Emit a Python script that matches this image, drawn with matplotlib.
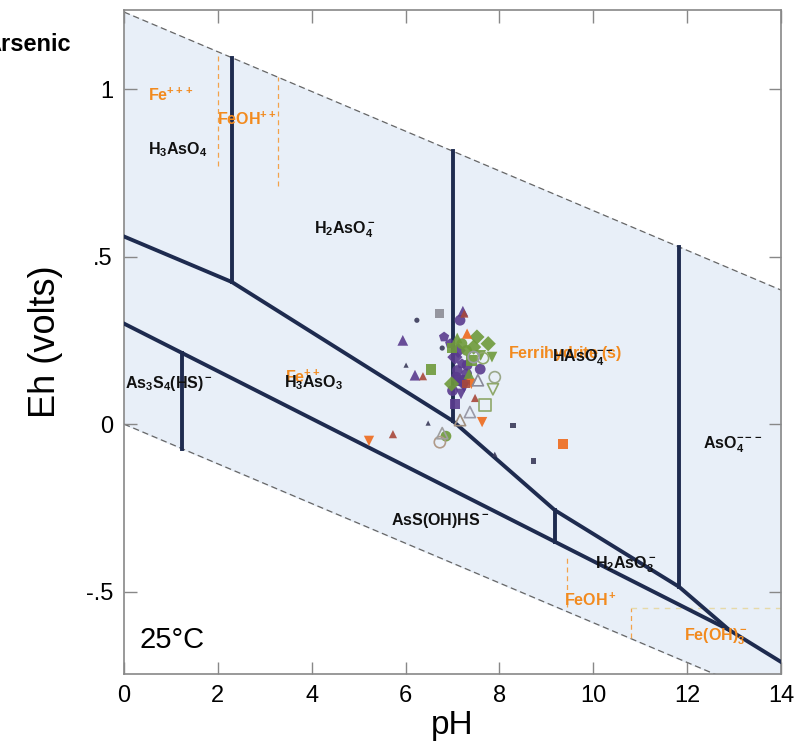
import matplotlib
matplotlib.use("Agg")
import matplotlib.pyplot as plt
import numpy as np

plt.rcParams['font.family'] = ['Liberation Sans', 'DejaVu Sans']
plt.rcParams['mathtext.fontset'] = 'custom'
plt.rcParams['mathtext.rm'] = 'Liberation Sans'
plt.rcParams['mathtext.bf'] = 'Liberation Sans:bold'
plt.rcParams['mathtext.it'] = 'Liberation Sans:italic'

# water stability limits (pH, Eh)
water_ph = [0, 14]
water_top = [1.23, 0.40]
water_bot = [0.0, -0.83]

# As(V) / As(III) boundary
redox_ph = [0, 2.3, 7.0, 9.18, 11.83, 12.9, 14]
redox_eh = [0.56, 0.424, 0.01, -0.257, -0.486, -0.615, -0.71]

# As(III) / sulfide boundary
sulf_ph = [0, 12.9]
sulf_eh = [0.30, -0.615]

# vertical acid/base boundaries: pH, Eh bottom, Eh top
vert_ph = [1.24, 2.3, 7.0, 9.18, 11.83]
vert_lo = [-0.073, 0.424, 0.01, -0.351, -0.486]
vert_hi = [0.212, 1.094, 0.816, -0.257, 0.530]

# iron boundaries (dashed orange)
fe_vert_ph = [2.0, 3.28, 9.44, 10.8]
fe_vert_lo = [0.77, 0.71, -0.546, -0.639]
fe_vert_hi = [1.11, 1.036, -0.397, -0.55]
fe_horiz_ph = [10.8, 14]
fe_horiz_eh = [-0.55, -0.55]

# sample points
purple_ph = [5.94, 6.20, 7.22, 6.82, 7.59, 7.31, 7.16, 7.05, 7.10, 7.15, 7.25, 7.20, 7.00, 7.12, 7.30, 7.05, 6.95, 7.18, 7.08, 7.22]
purple_eh = [0.250, 0.146, 0.337, 0.260, 0.164, 0.176, 0.310, 0.200, 0.160, 0.130, 0.110, 0.180, 0.100, 0.220, 0.150, 0.060, 0.240, 0.090, 0.140, 0.125]
purple_mk = ['^', '^', '^', 'p', 'o', 'o', 'o', 'D', 'o', 's', 'v', 'p', 'o', 'D', 'o', 's', 'p', 'v', 'o', 'D']

green_ph = [7.52, 7.76, 7.10, 6.99, 7.30, 7.40, 6.54, 6.86, 7.20, 7.45, 7.84, 7.60, 7.35, 6.98]
green_eh = [0.260, 0.240, 0.257, 0.227, 0.220, 0.190, 0.164, -0.036, 0.240, 0.230, 0.200, 0.205, 0.150, 0.120]
green_mk = ['D', 'D', '^', 's', 'o', 's', 's', 'o', 'o', 'D', 'v', 'v', '^', 'D']

orange_ph = [7.31, 7.63, 9.35, 5.22, 7.40]
orange_eh = [0.270, 0.006, -0.060, -0.050, 0.120]
orange_mk = ['^', 'v', 's', 'v', 'v']

brown_ph = [7.48, 6.37, 5.73, 7.28, 7.25]
brown_eh = [0.078, 0.143, -0.030, 0.120, 0.330]
brown_mk = ['^', '^', '^', 's', '^']

gray_ph = [6.73]
gray_eh = [0.331]

open_ph = [7.90, 7.65, 6.73, 7.54, 7.37, 7.16, 7.86, 7.69, 6.78, 7.45]
open_eh = [0.140, 0.197, -0.054, 0.131, 0.036, 0.012, 0.104, 0.057, -0.027, 0.200]
open_mk = ['o', 'o', 'o', '^', '^', '^', 'v', 's', '^', 'o']
open_col = ['#9aa88a', '#8fa86a', '#b09a88', '#8a8a9a', '#9a9aa8', '#a09080', '#8fa86a', '#8fa86a', '#a0a0a0', '#9a9aa8']

dark_ph = [6.24, 6.78, 6.01, 7.90, 8.29, 8.72, 6.48]
dark_eh = [0.310, 0.227, 0.176, -0.090, -0.003, -0.110, 0.003]
dark_mk = ['o', 'o', '^', '^', 's', 's', '^']

labels_black = [
    (1.15, 0.82, r'$\mathbf{H_3AsO_4}$'),
    (4.7, 0.58, r'$\mathbf{H_2AsO_4^-}$'),
    (9.78, 0.197, r'$\mathbf{HAsO_4^{--}}$'),
    (4.03, 0.125, r'$\mathbf{H_3AsO_3}$'),
    (12.98, -0.063, r'$\mathbf{AsO_4^{---}}$'),
    (6.73, -0.287, r'$\mathbf{AsS(OH)HS^-}$'),
    (10.68, -0.42, r'$\mathbf{H_2AsO_3^-}$'),
]
labels_orange = [
    (1.0, 0.98, r'$\mathbf{Fe^{+++}}$'),
    (2.62, 0.91, r'$\mathbf{FeOH^{++}}$'),
    (3.8, 0.14, r'$\mathbf{Fe^{++}}$'),
    (9.4, 0.21, r'$\mathbf{Ferrihydrite\ (s)}$'),
    (9.93, -0.525, r'$\mathbf{FeOH^+}$'),
    (12.6, -0.636, r'$\mathbf{Fe(OH)_3^-}$'),
]

navy = '#1e2b4f'
orange = '#f28a1e'

fig = plt.figure(figsize=(7.97, 7.49), dpi=100)
ax = fig.add_axes([0.1556, 0.1001, 0.8244, 0.8865])

ax.fill_between(water_ph, water_bot, water_top, color='#e8eff8', zorder=0)
ax.plot(water_ph, water_top, ls=(0, (5, 3)), color='#666666', lw=0.9, zorder=1)
ax.plot(water_ph, water_bot, ls=(0, (5, 3)), color='#666666', lw=0.9, zorder=1)

for x, lo, hi in zip(fe_vert_ph, fe_vert_lo, fe_vert_hi):
    ax.plot([x, x], [lo, hi], ls=(0, (4, 3)), color='#f3a24a', lw=0.9, zorder=1)
ax.plot(fe_horiz_ph, fe_horiz_eh, ls=(0, (4, 4)), color='#e6d9a8', lw=1.0, zorder=1)

ax.plot(redox_ph, redox_eh, color=navy, lw=2.8, zorder=3, solid_joinstyle='round')
ax.plot(sulf_ph, sulf_eh, color=navy, lw=2.8, zorder=3)
for x, lo, hi in zip(vert_ph, vert_lo, vert_hi):
    ax.plot([x, x], [lo, hi], color=navy, lw=2.8, zorder=3)

def scatter_group(phs, ehs, mks, color, size=45, filled=True, edge=None):
    cols = edge if isinstance(edge, list) else [edge] * len(phs)
    for x, y, m, c in zip(phs, ehs, mks, cols):
        if filled:
            ax.scatter(x, y, marker=m, s=size, color=color, edgecolors='none', alpha=0.9, zorder=4)
        else:
            ax.scatter(x, y, marker=m, s=size, facecolors='none', edgecolors=c, linewidths=1.2, zorder=4)

scatter_group(purple_ph, purple_eh, purple_mk, '#5a3b8e', size=60)
scatter_group(green_ph, green_eh, green_mk, '#6e9a3a', size=60)
scatter_group(orange_ph, orange_eh, orange_mk, '#ee6a1c', size=55)
scatter_group(brown_ph, brown_eh, brown_mk, '#a8483a', size=35)
scatter_group(gray_ph, gray_eh, ['s'], '#8c8c96', size=40)
scatter_group(open_ph, open_eh, open_mk, None, size=65, filled=False, edge=open_col)
scatter_group(dark_ph, dark_eh, dark_mk, '#3a3a5a', size=14)

for x, y, t in labels_black:
    ax.text(x, y, t, fontsize=11.5, color='#111111', ha='center', va='center', zorder=6)
for x, y, t in labels_orange:
    ax.text(x, y, t, fontsize=11.5, color=orange, ha='center', va='center', zorder=5)
ax.text(0.03, 0.12, r'$\mathbf{As_3S_4(HS)^-}$', fontsize=11.5, color='#111111', ha='left', va='center', zorder=6)
ax.text(0.34, -0.645, '25°C', fontsize=21, ha='left', va='center')

ax.set_xlim(0, 14)
ax.set_ylim(-0.746, 1.236)
ax.set_xticks([0, 2, 4, 6, 8, 10, 12, 14])
ax.set_yticks([-0.5, 0, 0.5, 1])
ax.set_yticklabels(['-.5', '0', '.5', '1'])
ax.tick_params(direction='in', length=9, width=1, color='#888888', labelsize=17,
               top=True, right=True, pad=8)
for s in ax.spines.values():
    s.set_color('#888888')
    s.set_linewidth(1.2)
ax.set_xlabel('pH', fontsize=24, labelpad=2)
ax.set_ylabel('Eh (volts)', fontsize=26, labelpad=16)

fig.text(-0.019, 0.94, 'Arsenic', fontsize=17, fontweight='bold', ha='left', va='center')

fig.savefig('out.png', dpi=100)
